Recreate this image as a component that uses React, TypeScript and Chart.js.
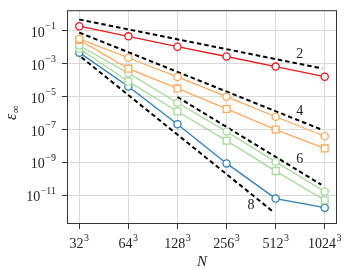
import React, { useEffect, useRef } from "react";
import { Chart, registerables } from "chart.js";

Chart.register(...registerables);

// Grid resolutions (cube root of N)
const resolutions = [32, 64, 128, 256, 512, 1024];
const xTickBases = ["32", "64", "128", "256", "512", "1024"];
const yTickValues = [1e-1, 1e-3, 1e-5, 1e-7, 1e-9, 1e-11];
const yTickExponents = ["\u22121", "\u22123", "\u22125", "\u22127", "\u22129", "\u221211"];

// Series (error values)
const redCircles = [1.95e-1, 4.7e-2, 1.1e-2, 2.8e-3, 6.8e-4, 1.65e-4];
const orangeCircles = [3.3e-2, 2.35e-3, 1.6e-4, 1.0e-5, 6.0e-7, 3.9e-8];
const orangeSquares = [2.8e-2, 5.1e-4, 3.2e-5, 1.8e-6, 1.0e-7, 7.1e-9];
const greenCircles = [1.3e-2, 2.7e-4, 4.3e-6, 7.6e-8, 1.07e-9, 1.7e-11];
const greenSquares = [8.5e-3, 8.5e-5, 1.26e-6, 2.1e-8, 2.95e-10, 5.0e-12];
const blueCircles = [4.8e-3, 4.2e-5, 2.1e-7, 8.7e-10, 6.3e-12, 1.74e-12];

// Reference slope lines (endpoints)
const ref2X = [32, 990];
const ref2Y = [0.5, 5.2e-4];
const ref4X = [32, 990];
const ref4Y = [8.0e-2, 9.5e-8];
const ref6X = [128, 976];
const ref6Y = [9.5e-6, 4.4e-11];
const ref8X = [33, 491];
const ref8Y = [2.5e-3, 1.05e-12];

// Slope labels
const slopeLabels = ["2", "4", "6", "8"];
const slopeLabelX = [719, 719, 719, 362];
const slopeLabelY = [4.0e-3, 1.26e-6, 1.55e-9, 2.3e-12];

const RED = "#e41a1c";
const ORANGE = "#fdaa5c";
const GREEN = "#a6d99a";
const BLUE = "#2c7fb8";
const SERIF = "'Liberation Serif', 'DejaVu Serif', serif";

function pts(xs: number[], ys: number[]) {
  return xs.map((x, i) => ({ x, y: ys[i] }));
}

function series(ys: number[], color: string, style: string) {
  return {
    data: pts(resolutions, ys),
    borderColor: color,
    backgroundColor: "#ffffff",
    borderWidth: 1.3,
    pointStyle: style,
    pointRadius: style === "rect" ? 4.8 : 3.6,
    pointBorderWidth: 1.3,
    pointBackgroundColor: "#ffffff",
    pointBorderColor: color,
    fill: false,
    tension: 0,
  };
}

function refLine(xs: number[], ys: number[]) {
  return {
    data: pts(xs, ys),
    borderColor: "#000000",
    borderWidth: 2,
    borderDash: [4.5, 3],
    pointRadius: 0,
    fill: false,
    tension: 0,
  };
}

const textPlugin = {
  id: "texts",
  afterDraw(chart: any) {
    const ctx = chart.ctx;
    const xs = chart.scales.x;
    const ys = chart.scales.y;
    const area = chart.chartArea;
    ctx.save();
    // frame
    ctx.strokeStyle = "#333333";
    ctx.lineWidth = 1;
    ctx.strokeRect(area.left + 0.5, area.top + 0.5, area.right - area.left - 1, area.bottom - area.top - 1);
    ctx.fillStyle = "#222222";
    ctx.textBaseline = "alphabetic";
    // y tick labels
    yTickValues.forEach((v, i) => {
      const py = ys.getPixelForValue(v);
      ctx.font = `10px ${SERIF}`;
      const ew = ctx.measureText(yTickExponents[i]).width;
      ctx.font = `14px ${SERIF}`;
      const bw = ctx.measureText("10").width;
      const right = 56;
      ctx.textAlign = "left";
      ctx.font = `14px ${SERIF}`;
      ctx.fillText("10", right - ew - bw - 0.5, py + 6);
      ctx.font = `10px ${SERIF}`;
      ctx.fillText(yTickExponents[i], right - ew, py - 1.5);
    });
    // x tick labels
    resolutions.forEach((v, i) => {
      const px = xs.getPixelForValue(v);
      ctx.font = `14px ${SERIF}`;
      const bw = ctx.measureText(xTickBases[i]).width;
      ctx.font = `10px ${SERIF}`;
      const ew = ctx.measureText("3").width;
      const left = px - (bw + ew + 0.5) / 2;
      ctx.textAlign = "left";
      ctx.font = `14px ${SERIF}`;
      ctx.fillText(xTickBases[i], left, 248);
      ctx.font = `10px ${SERIF}`;
      ctx.fillText("3", left + bw + 0.5, 241);
    });
    // slope labels
    ctx.textAlign = "center";
    ctx.textBaseline = "middle";
    ctx.font = `14px ${SERIF}`;
    slopeLabels.forEach((s, i) => {
      ctx.fillText(s, xs.getPixelForValue(slopeLabelX[i]), ys.getPixelForValue(slopeLabelY[i]));
    });
    // x title
    ctx.font = `italic 15px ${SERIF}`;
    ctx.fillText("N", 202, 262);
    // y title
    ctx.translate(12, 113);
    ctx.rotate(-Math.PI / 2);
    ctx.textAlign = "left";
    ctx.textBaseline = "alphabetic";
    ctx.font = `italic 16px ${SERIF}`;
    const w1 = ctx.measureText("\u03b5").width;
    ctx.font = `11px ${SERIF}`;
    const w2 = ctx.measureText("\u221e").width;
    const start = -(w1 + w2) / 2;
    ctx.font = `italic 16px ${SERIF}`;
    ctx.fillText("\u03b5", start, 4);
    ctx.font = `11px ${SERIF}`;
    ctx.fillText("\u221e", start + w1 + 0.5, 7);
    ctx.restore();
  },
};

export default function App() {
  const ref = useRef<HTMLCanvasElement | null>(null);
  useEffect(() => {
    if (!ref.current) return;
    const chart = new Chart(ref.current, {
      type: "line",
      data: {
        datasets: [
          series(redCircles, RED, "circle"),
          series(orangeCircles, ORANGE, "circle"),
          series(orangeSquares, ORANGE, "rect"),
          series(greenCircles, GREEN, "circle"),
          series(greenSquares, GREEN, "rect"),
          series(blueCircles, BLUE, "circle"),
          refLine(ref2X, ref2Y),
          refLine(ref4X, ref4Y),
          refLine(ref6X, ref6Y),
          refLine(ref8X, ref8Y),
        ] as any,
      },
      options: {
        animation: false,
        responsive: false,
        maintainAspectRatio: false,
        layout: { padding: { top: 1, right: 10, left: 0, bottom: 0 } },
        plugins: { legend: { display: false }, tooltip: { enabled: false } },
        scales: {
          x: {
            type: "logarithmic",
            min: Math.pow(2, 4.75),
            max: Math.pow(2, 10.25),
            afterBuildTicks: (s: any) => {
              s.ticks = resolutions.map((v) => ({ value: v }));
            },
            afterFit: (s: any) => {
              s.height = 47;
            },
            ticks: { callback: () => "", autoSkip: false },
            grid: { color: "#d9d9d9", lineWidth: 1, tickColor: "#333333", tickLength: 5 },
            border: { display: false },
          },
          y: {
            type: "logarithmic",
            min: Math.pow(10, -12.75),
            max: Math.pow(10, 0.265),
            afterBuildTicks: (s: any) => {
              s.ticks = yTickValues.map((v) => ({ value: v }));
            },
            afterFit: (s: any) => {
              s.width = 67;
            },
            ticks: { callback: () => "", autoSkip: false },
            grid: { color: "#d9d9d9", lineWidth: 1, tickColor: "#333333", tickLength: 5 },
            border: { display: false },
          },
        },
      },
      plugins: [textPlugin],
    });
    return () => chart.destroy();
  }, []);
  return (
    <div style={{ position: "fixed", left: 0, top: 0, width: 347, height: 271, background: "#fff" }}>
      <canvas ref={ref} width={347} height={271} style={{ width: 347, height: 271 }} />
    </div>
  );
}
